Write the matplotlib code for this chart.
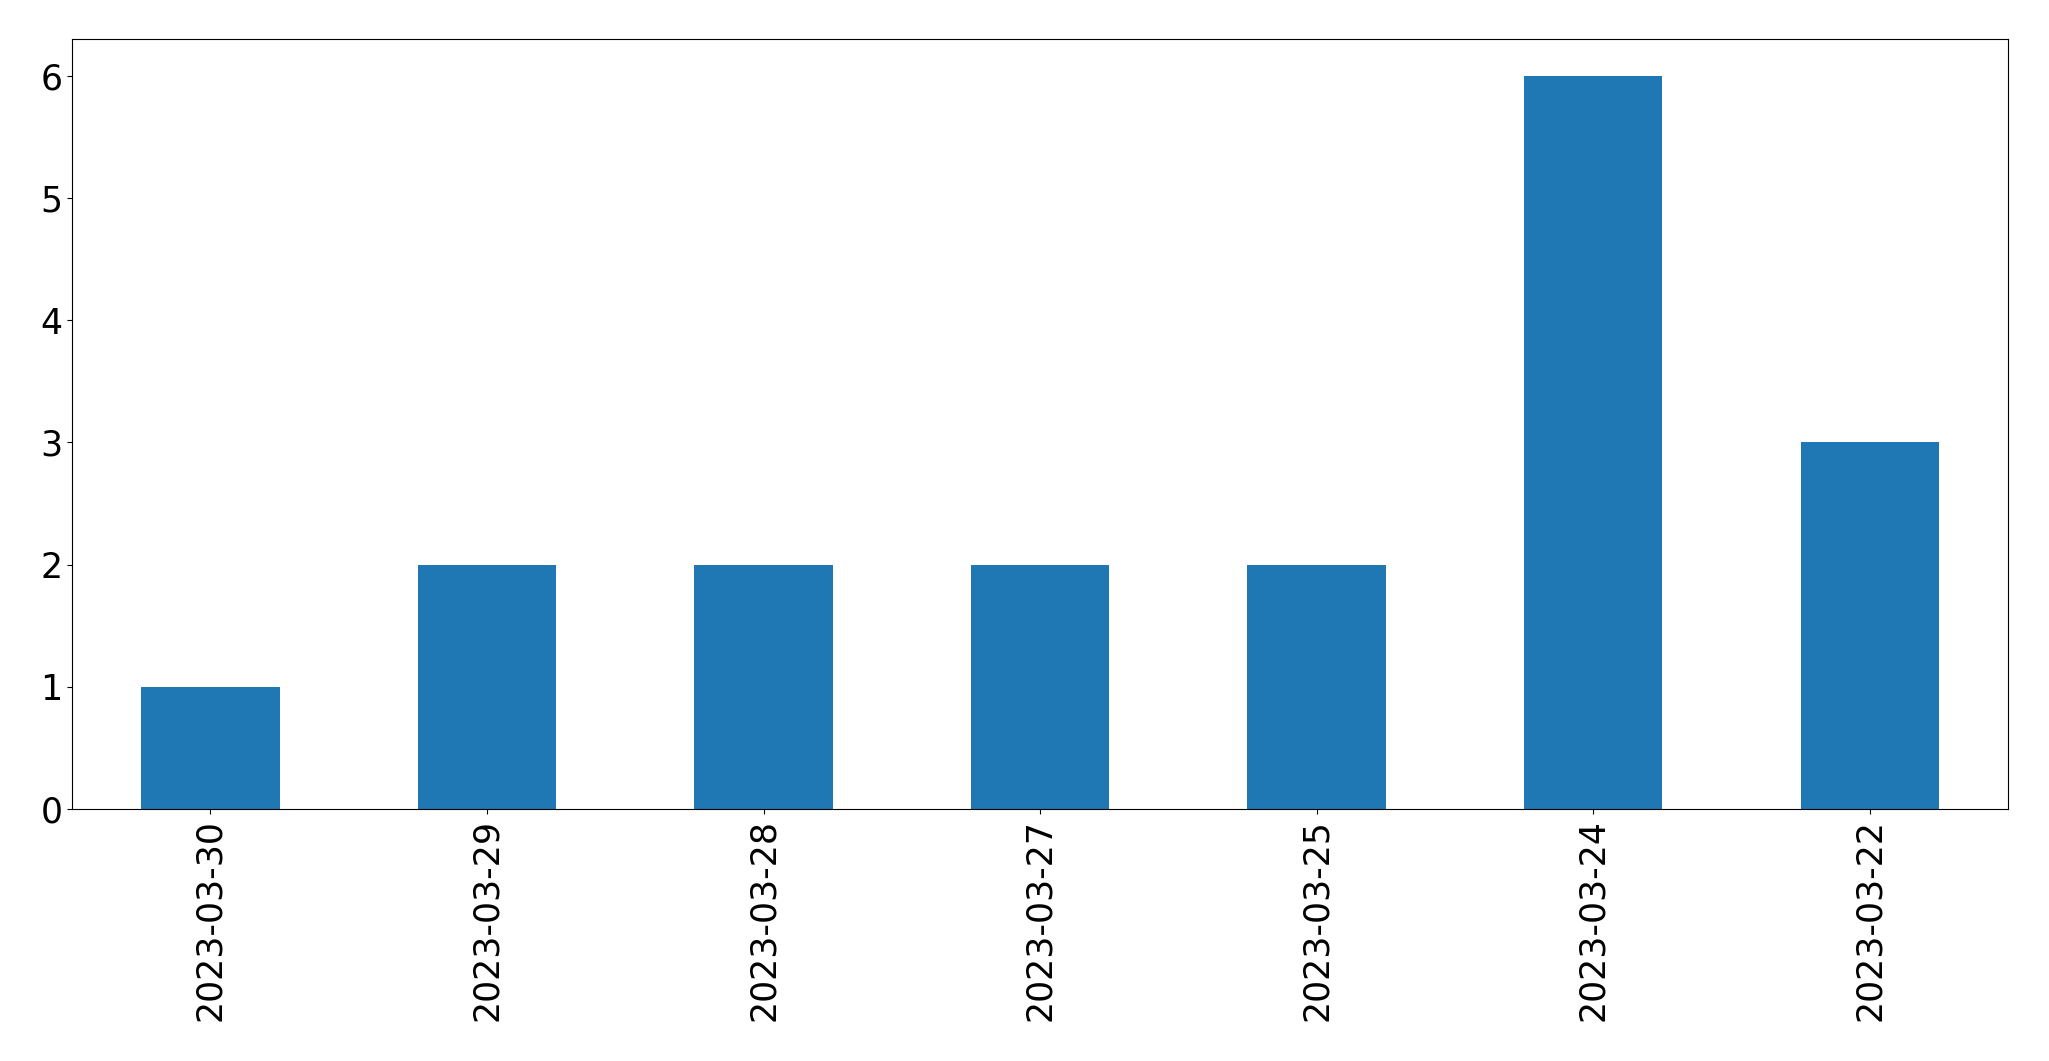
import matplotlib

matplotlib.use("Agg")
import matplotlib.pyplot as plt
import numpy as np

# dates (as they appear, newest first) and counts per date
DATES = ["2023-03-30", "2023-03-29", "2023-03-28", "2023-03-27",
         "2023-03-25", "2023-03-24", "2023-03-22"]
COUNTS = [1, 2, 2, 2, 2, 6, 3]

fig = plt.figure(figsize=(20.49, 10.61), dpi=100)
ax = fig.add_axes([0.0352, 0.2375, 0.9448, 0.7255])

x = np.arange(len(DATES))
ax.bar(x, COUNTS, width=0.5, color="#1f77b4")
ax.set_xlim(-0.5, len(DATES) - 0.5)
ax.set_ylim(0, max(COUNTS) * 1.05)
ax.set_xticks(x)
ax.set_xticklabels(DATES, rotation=90, fontsize=25)
ax.tick_params(axis="y", labelsize=25)

fig.savefig("out.png", dpi=100)
